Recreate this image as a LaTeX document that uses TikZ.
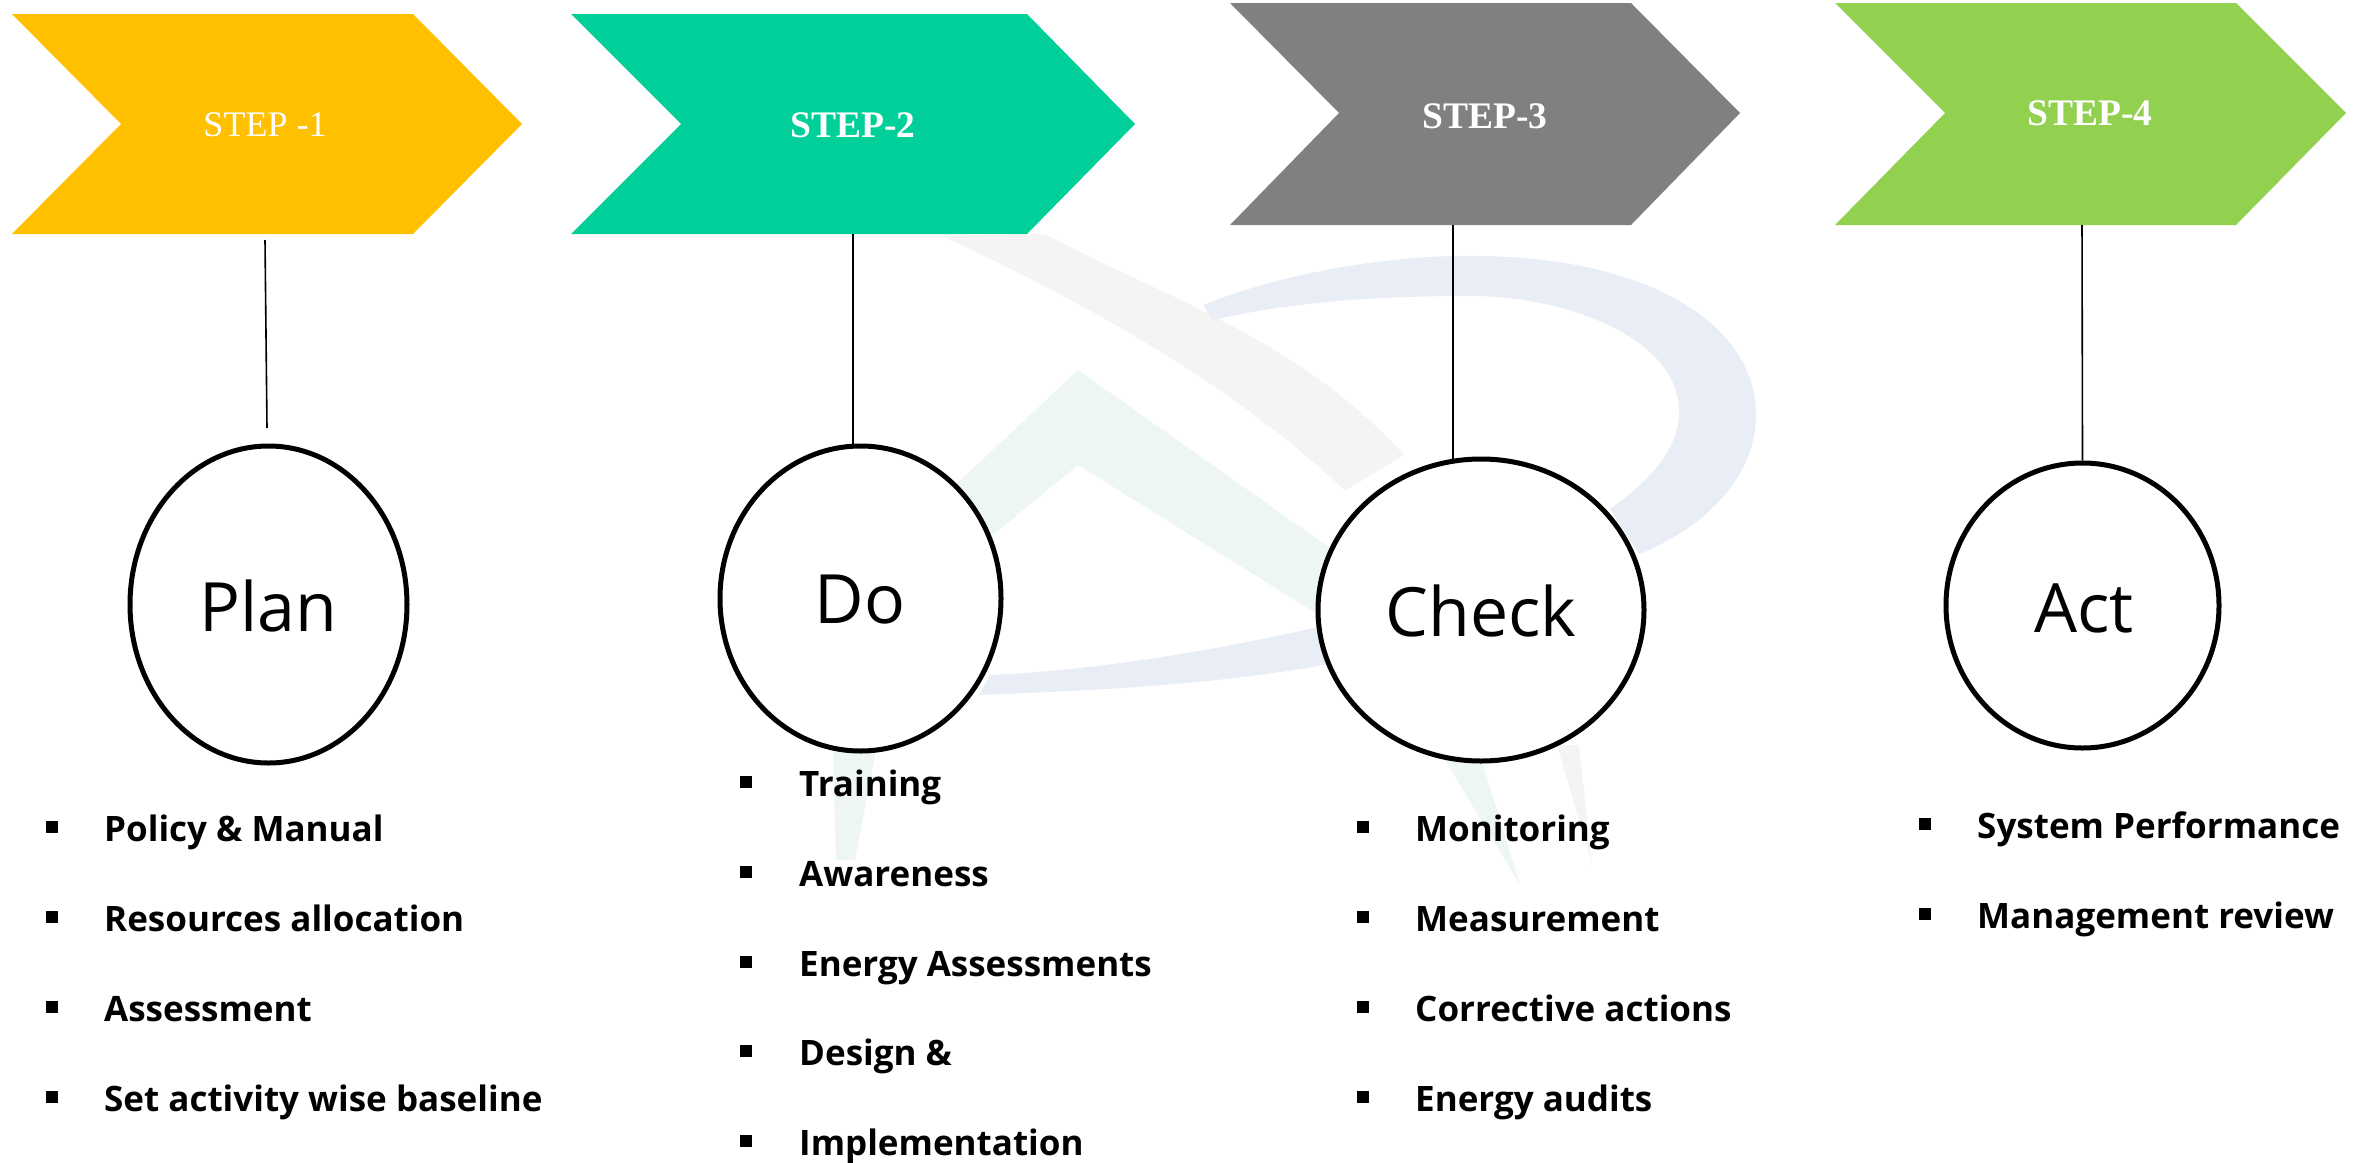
\documentclass[tikz,border=0pt]{standalone}
\usepackage{fontspec}
\setmainfont{Open Sans}
\newfontfamily\serifface{Liberation Serif}
\usetikzlibrary{shapes.geometric}
\definecolor{cA}{HTML}{FFC000}
\definecolor{cB}{HTML}{00CF99}
\definecolor{cC}{HTML}{808080}
\definecolor{cD}{HTML}{92D050}
\definecolor{wmBlue}{HTML}{E9EEF6}
\definecolor{wmGreen}{HTML}{EEF6F3}
\definecolor{wmGrey}{HTML}{F4F5F3}
\tikzset{
  phase/.style={draw=black,line width=5pt,fill=white,ellipse,inner sep=0pt},
  phasetext/.style={font=\fontsize{68}{82}\selectfont},
  steplabel/.style={text=white,font=\serifface\fontsize{37.5}{44}\selectfont\bfseries},
  item/.style={anchor=base west,inner sep=0pt,font=\fontsize{35}{42}\selectfont\bfseries},
  dot/.style={fill=black,minimum size=12pt,inner sep=0pt},
  link/.style={draw=black,line width=1.6pt}
}
\newcommand{\chev}[8]{\fill[#1] (#2,#6)--(#4,#6)--(#5,#7)--(#4,#8)--(#2,#8)--(#3,#7)--cycle;}
\begin{document}
\begin{tikzpicture}[x=1pt,y=-1pt]
\useasboundingbox (0,0) rectangle (2364,1162);
% watermark
\fill[wmGrey] (942,236) .. controls (1060,290) and (1230,380) .. (1345,491) -- (1404,455) .. controls (1300,340) and (1170,300) .. (1045,234) -- cycle;
\fill[wmBlue] (1203,305) .. controls (1290,270) and (1400,255) .. (1470,256) .. controls (1640,255) and (1756,320) .. (1756,415) .. controls (1756,480) and (1700,530) .. (1639,554) -- (1610,509) .. controls (1650,480) and (1679,450) .. (1679,411) .. controls (1679,340) and (1570,296) .. (1470,296) .. controls (1390,296) and (1300,300) .. (1213,320) -- cycle;
\fill[wmBlue] (979,695) .. controls (1100,690) and (1220,685) .. (1340,662) -- (1340,622) .. controls (1220,650) and (1100,670) .. (990,675) -- cycle;
\fill[wmGreen] (950,490) -- (1078,370) -- (1330,548) -- (1330,622) -- (1078,465) -- (993,535) -- cycle;
\fill[wmGreen] (833,745) -- (877,745) -- (855,860) -- (836,860) -- cycle;
\fill[wmGreen] (1442,755) -- (1480,755) -- (1520,885) -- cycle;
\fill[wmGrey] (1557,745) -- (1579,745) -- (1592,865) -- cycle;
% chevrons
\chev{cA}{12}{121}{413}{522}{14}{124}{234}
\chev{cB}{571}{681}{1027}{1135}{14}{124}{234}
\chev{cC}{1230}{1339}{1631}{1740}{3}{113}{225}
\chev{cD}{1835}{1945}{2236}{2346}{3}{113}{225}
\node[steplabel,font=\serifface\fontsize{36}{44}\selectfont] (s1) at (265,125) {STEP -1};
\node[steplabel] (s2) at (853,125) {STEP-2};
\node[steplabel] (s3) at (1485,116) {STEP-3};
\node[steplabel] (s4) at (2090,113) {STEP-4};
% phases
\node[phase,minimum width=277pt,minimum height=317pt] (plan) at (268.5,604.5) {};
\node[phase,minimum width=281pt,minimum height=305pt] (do) at (860.5,598.5) {};
\node[phase,minimum width=326pt,minimum height=302pt] (check) at (1481,610) {};
\node[phase,minimum width=273pt,minimum height=285pt] (act) at (2082.5,605.5) {};
\node[phasetext] (tplan) at (268,606) {Plan};
\node[phasetext] (tdo) at (860,600) {Do};
\node[phasetext] (tcheck) at (1481,611) {Check};
\node[phasetext] (tact) at (2084,608) {Act};
% connectors
\coordinate (t1) at (265,240);
\coordinate (e1) at (267,428);
\coordinate (t2) at (853,234);
\coordinate (t3) at (1453,225);
\coordinate (t4) at (2082,225);
\draw[link] (t1)--(e1);
\draw[link] (t2)--(853,446);
\draw[link] (t3)--(1453,459);
\draw[link] (t4)--(act.north);
% lists
\foreach \n/\y/\t in {a/828/Policy \& Manual,b/918/Resources allocation,c/1008/Assessment,d/1098/Set activity wise baseline}{
  \node[dot] (pd\n) at (52,{\y-1}) {};
  \node[item] (p\n) at (104,{\y+13}) {\t};
}
\foreach \n/\y/\t in {a/783/Training,b/873/Awareness,c/963/Energy Assessments,d/1052/Design \&,e/1142/Implementation}{
  \node[dot] (dd\n) at (746,{\y-1}) {};
  \node[item] (d\n) at (799,{\y+13}) {\t};
}
\foreach \n/\y/\t in {a/828/Monitoring,b/918/Measurement,c/1008/Corrective actions,d/1098/Energy audits}{
  \node[dot] (cd\n) at (1363,{\y-1}) {};
  \node[item] (c\n) at (1415,{\y+13}) {\t};
}
\foreach \n/\y/\t in {a/825/System Performance,b/915/Management review}{
  \node[dot] (ad\n) at (1925,{\y-1}) {};
  \node[item] (a\n) at (1977,{\y+13}) {\t};
}
\end{tikzpicture}
\end{document}
